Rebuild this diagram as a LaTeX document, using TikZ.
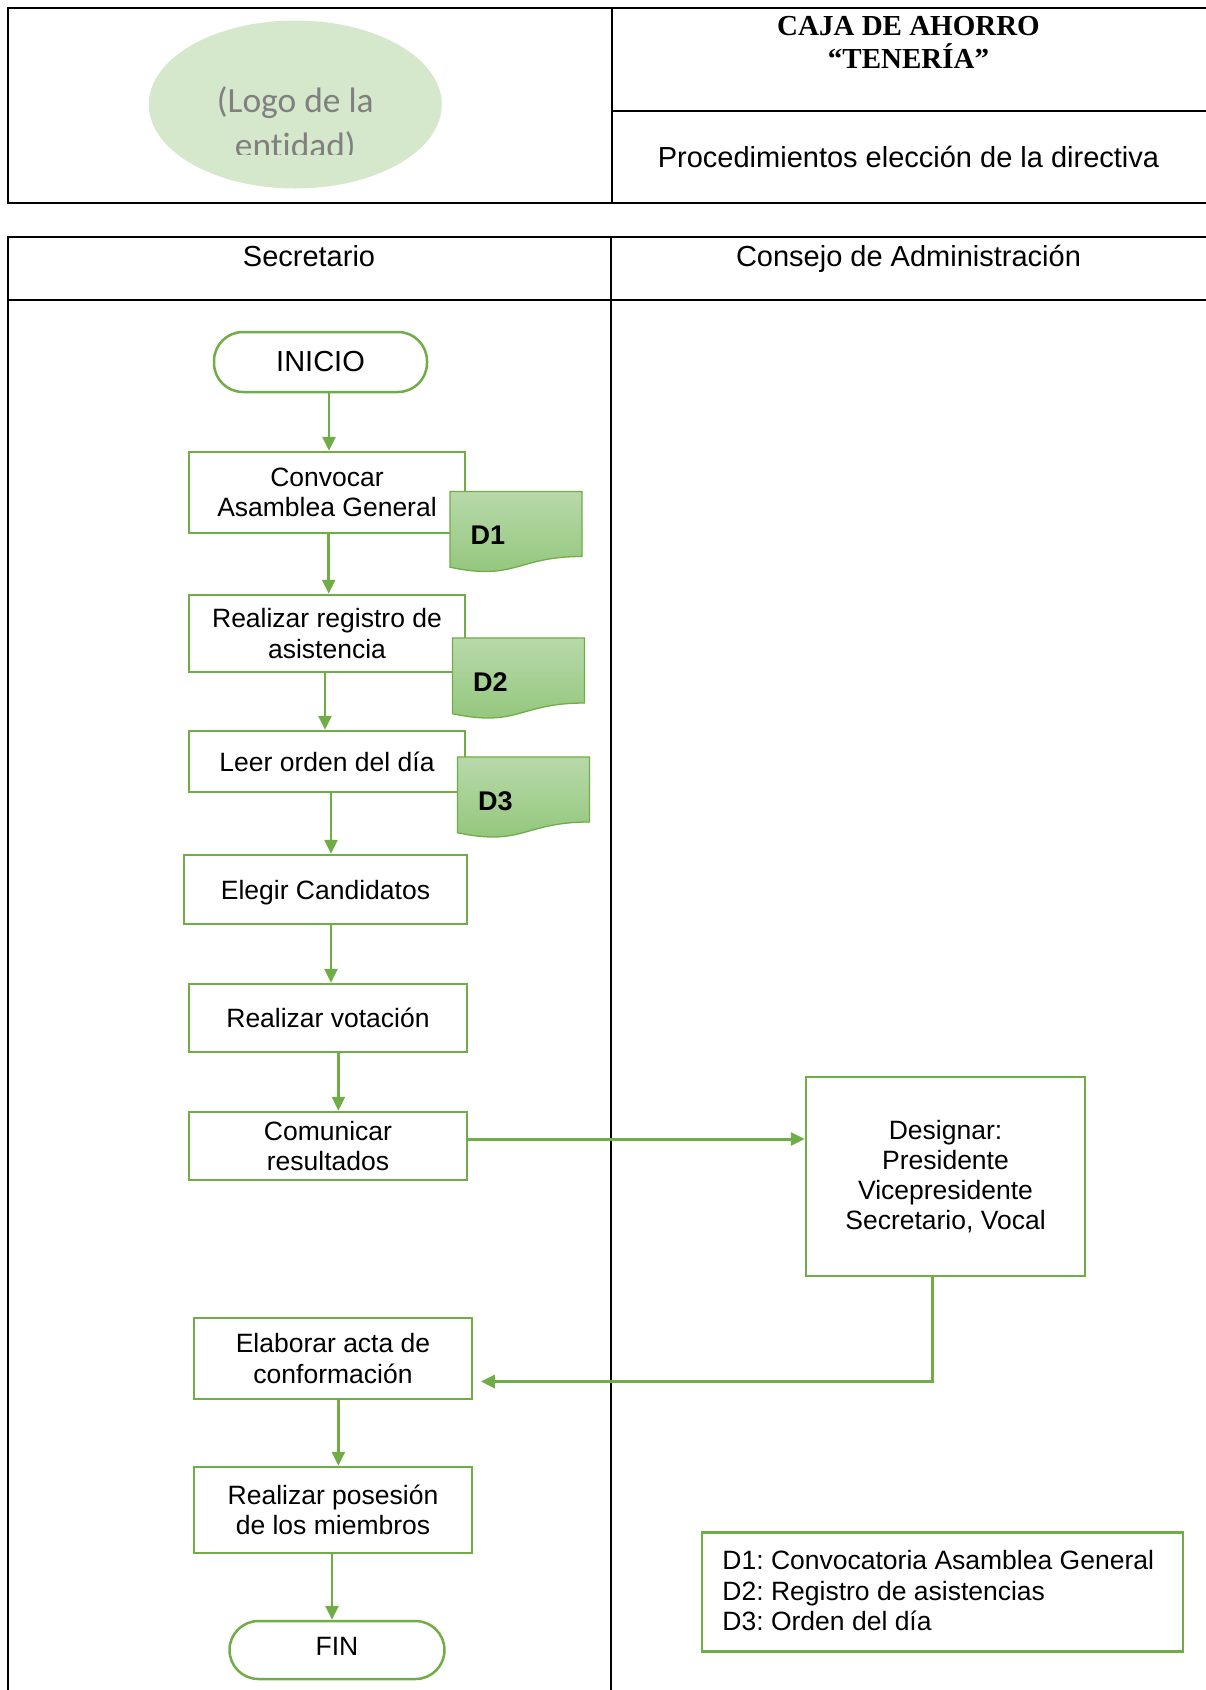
\documentclass[tikz,border=0pt]{standalone}
\usepackage{fontspec}
\setmainfont{Liberation Sans}
\newfontfamily\titlefont{Liberation Serif}
\newfontfamily\logofont[Ligatures=NoCommon]{Carlito}
\usetikzlibrary{arrows.meta,shapes.geometric}
\frenchspacing

\definecolor{flowgreen}{HTML}{70AD47}
\definecolor{logofill}{HTML}{D5E8CB}
\definecolor{logotext}{HTML}{808080}
\definecolor{doctop}{HTML}{B8D9AA}
\definecolor{docbot}{HTML}{90C578}

\newcommand\stepfont{\fontsize{26.5}{30.2}\selectfont}
\newcommand\headfont{\fontsize{29}{33}\selectfont}

\tikzset{
  frame/.style={line width=2pt, black},
  stepbox/.style={draw=flowgreen, line width=2.5pt, fill=white, inner sep=0pt,
    align=center, font=\stepfont},
  endbox/.style={stepbox, rounded corners=29pt},
  arr/.style={draw=flowgreen, line width=2.6pt, -{Triangle[length=14pt,width=13pt]}},
  docpath/.style={draw=flowgreen, line width=1.3pt, top color=doctop, bottom color=docbot},
  doclabel/.style={font=\fontsize{27}{30}\selectfont\bfseries, inner sep=0pt},
}

% document symbol: top-left corner, node name, label
\newcommand\docshape[4]{%
  \begin{scope}[shift={(#1,#2)}]
    \path[docpath] (0,0) -- (132,0) -- (132,65)
      .. controls (66,65) and (66,89.7) .. (0,75.7) -- cycle;
    \node[doclabel] (#3) at (38,44) {#4};
  \end{scope}}

\begin{document}
\begin{tikzpicture}[x=1pt, y=-1pt]
\useasboundingbox (0,0) rectangle (1206,1690);

% ---------- header ----------
\node[ellipse, fill=logofill, minimum width=293pt, minimum height=168pt, inner sep=0pt]
  (logo) at (295.3,104.5) {};
\begin{scope}
  \clip (150,60) rectangle (440,154);
  \node[anchor=base, inner sep=0pt, text=logotext, font=\logofont\fontsize{35.4}{41}\selectfont]
    (logoa) at (295.3,112.3) {(Logo de la};
  \node[anchor=base, inner sep=0pt, text=logotext, font=\logofont\fontsize{35.4}{41}\selectfont]
    (logob) at (295.3,157) {entidad)};
\end{scope}

\draw[frame] (1206,7.5) -- (7.5,7.5) -- (7.5,202.6) -- (1206,202.6);
\draw[frame] (612,7.5) -- (612,202.6);
\draw[frame] (612,111) -- (1206,111);

\node[anchor=base, inner sep=0pt, font=\titlefont\bfseries\headfont] (caja) at (908.5,35.8) {CAJA DE AHORRO};
\node[anchor=base, inner sep=0pt, font=\titlefont\bfseries\headfont] (teneria) at (908.5,68) {“TENERÍA”};
\node[anchor=base, inner sep=0pt, font=\headfont] (titulo) at (908.5,167.5) {Procedimientos elección de la directiva};

% ---------- swimlanes ----------
\draw[frame] (1206,237) -- (7.5,237) -- (7.5,1690);
\draw[frame] (7.5,299.6) -- (1206,299.6);
\draw[frame] (611,237) -- (611,1690);

\node[anchor=base, inner sep=0pt, font=\headfont] (lane1) at (309,266.5) {Secretario};
\node[anchor=base, inner sep=0pt, font=\headfont] (lane2) at (908.5,266.5) {Consejo de Administración};

% ---------- steps ----------
\node[endbox, font=\headfont, minimum width=213pt, minimum height=60pt] (inicio) at (320.5,362) {INICIO};
\node[stepbox, minimum width=276pt, minimum height=81pt] (conv) at (327,492.5) {Convocar\\Asamblea General};
\node[stepbox, minimum width=276pt, minimum height=77pt] (reg) at (327,633.5) {Realizar registro de\\asistencia};
\node[stepbox, minimum width=276pt, minimum height=61pt, text height=19pt, text depth=0pt] (leer) at (327,761.5) {Leer orden del día};
\node[stepbox, minimum width=283pt, minimum height=69pt, text height=19pt, text depth=0pt] (elegir) at (325.5,889.5) {Elegir Candidatos};
\node[stepbox, minimum width=278pt, minimum height=68pt, text height=19pt, text depth=0pt] (vot) at (328,1018) {Realizar votación};
\node[stepbox, minimum width=278pt, minimum height=68pt] (com) at (328,1146) {Comunicar\\resultados};
\node[stepbox, minimum width=279pt, minimum height=199pt] (des) at (945.5,1176.5) {Designar:\\Presidente\\Vicepresidente\\Secretario, Vocal};
\node[stepbox, minimum width=278pt, minimum height=81pt] (elab) at (333,1358.5) {Elaborar acta de\\conformación};
\node[stepbox, minimum width=278pt, minimum height=86pt] (pos) at (333,1510) {Realizar posesión\\de los miembros};
\node[endbox, minimum width=215pt, minimum height=58pt, text height=19pt, text depth=8.6pt] (fin) at (337,1650) {FIN};

% ---------- documents ----------
\docshape{450}{491.5}{d1}{D1}
\docshape{452.5}{638}{d2}{D2}
\docshape{457.4}{757}{d3}{D3}

% ---------- legend ----------
\node[draw=flowgreen, line width=2.5pt, inner sep=0pt, minimum width=481pt, minimum height=119pt]
  (legend) at (942.5,1591.8) {};
\node[anchor=west, inner sep=0pt, align=left, font=\fontsize{26.5}{30.7}\selectfont]
  (legendtext) at ([xshift=21.5pt,yshift=1.2pt]legend.west)
  {D1: Convocatoria Asamblea General\\D2: Registro de asistencias\\D3: Orden del día};

% ---------- connectors ----------
\draw[arr] ([xshift=8.5pt]inicio.south) -- ([xshift=2pt]conv.north);
\draw[arr] ([xshift=1.7pt]conv.south) -- ([xshift=1.7pt]reg.north);
\draw[arr] ([xshift=-2pt]reg.south) -- ([xshift=-2pt]leer.north);
\draw[arr] ([xshift=4pt]leer.south) -- ([xshift=5.5pt]elegir.north);
\draw[arr] ([xshift=5.5pt]elegir.south) -- ([xshift=3pt]vot.north);
\draw[arr] ([xshift=10.4pt]vot.south) -- ([xshift=10.4pt]com.north);
\draw[arr, line width=3pt] ([yshift=7pt]com.east) -- ([yshift=7pt]com.east -| des.west);
\draw[arr, line width=3pt] ([xshift=-13.5pt]des.south) |- ([xshift=7.6pt,yshift=-23pt]elab.east);
\draw[arr] ([xshift=5.4pt]elab.south) -- ([xshift=5.4pt]pos.north);
\draw[arr] ([xshift=-1pt]pos.south) -- ([xshift=-5pt]fin.north);
\end{tikzpicture}
\end{document}
